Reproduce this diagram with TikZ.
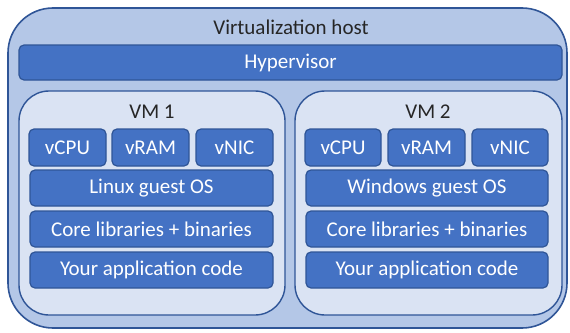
\documentclass[tikz,border=0pt]{standalone}
\usepackage{fontspec}
\setmainfont{Carlito}
\definecolor{hostfill}{HTML}{B4C7E7}
\definecolor{edge}{HTML}{2F5597}
\definecolor{vmfill}{HTML}{DAE3F3}
\definecolor{boxfill}{HTML}{4472C4}
\definecolor{txt}{HTML}{262626}
\begin{document}
\begin{tikzpicture}[x=1pt,y=-1pt,
  hostbox/.style={draw=edge,fill=hostfill,line width=1.6pt,rounded corners=45pt},
  vmbox/.style={draw=edge,fill=vmfill,line width=1.4pt,rounded corners=30pt},
  blk/.style={draw=edge,fill=boxfill,line width=1.2pt,rounded corners=5pt,text=white,font=\fontsize{21}{24}\selectfont},
  lbl/.style={text=txt,font=\fontsize{21}{24}\selectfont}]
\useasboundingbox (0,0) rectangle (570,332);
\draw[hostbox] (8,8) rectangle (567,328);
\node[lbl] (title) at (291,27) {Virtualization host};
\draw[blk] (19,45) rectangle (562,80);
\node[text=white,font=\fontsize{21}{24}\selectfont] (hyp) at (290.5,62.5) {Hypervisor};
% VM1
\draw[vmbox] (19,91) rectangle (285,315);
\node[lbl] (vm1) at (152,112) {VM 1};
\draw[blk] (29,129) rectangle (106,166) node[midway,text=white] (c1) {vCPU};
\draw[blk] (112,129) rectangle (189,166) node[midway,text=white] (r1) {vRAM};
\draw[blk] (196,129) rectangle (273,166) node[midway,text=white] (n1) {vNIC};
\draw[blk] (30,170) rectangle (273,206) node[midway,text=white] (os1) {Linux guest OS};
\draw[blk] (30,211) rectangle (273,247) node[midway,text=white] (lib1) {Core libraries + binaries};
\draw[blk] (30,252) rectangle (273,288) node[midway,text=white] (app1) {Your application code};
% VM2
\draw[vmbox] (295,91) rectangle (562,315);
\node[lbl] (vm2) at (428,112) {VM 2};
\draw[blk] (305,129) rectangle (381,166) node[midway,text=white] (c2) {vCPU};
\draw[blk] (388,129) rectangle (465,166) node[midway,text=white] (r2) {vRAM};
\draw[blk] (472,129) rectangle (548,166) node[midway,text=white] (n2) {vNIC};
\draw[blk] (306,170) rectangle (548,206) node[midway,text=white] (os2) {Windows guest OS};
\draw[blk] (306,211) rectangle (548,247) node[midway,text=white] (lib2) {Core libraries + binaries};
\draw[blk] (306,252) rectangle (548,288) node[midway,text=white] (app2) {Your application code};
\end{tikzpicture}
\end{document}
